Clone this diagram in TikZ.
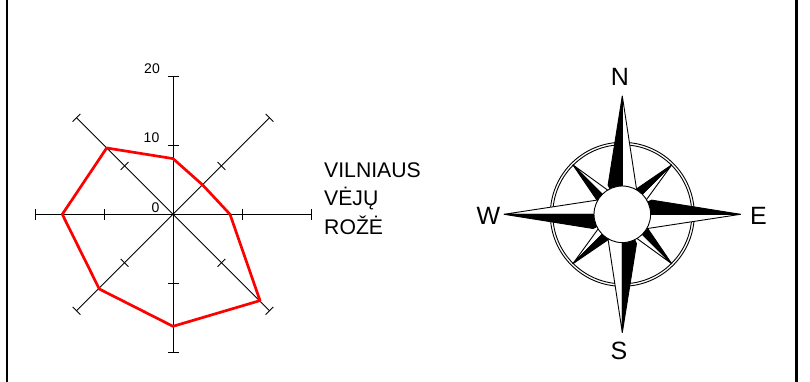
\documentclass[tikz,border=0pt]{standalone}
\usepackage{fontspec}
\setmainfont{Liberation Sans}
\tikzset{
  axisline/.style={black,line width=1pt},
  diagline/.style={black,line width=0.9pt},
  windline/.style={red,line width=2.7pt,line join=round},
  smalllabel/.style={font=\fontsize{14}{14}\selectfont,inner sep=0pt,anchor=base east},
  titlelabel/.style={font=\fontsize{21.2}{21.2}\selectfont,inner sep=0pt,anchor=base west},
  dirlabel/.style={font=\fontsize{25}{25}\selectfont,inner sep=0pt,anchor=base},
  spear/.style={draw=black,line width=0.9pt,line join=miter},
  ring/.style={draw=black,line width=0.9pt,fill=white},
}
\begin{document}
\begin{tikzpicture}[x=1pt,y=-1pt]
\useasboundingbox (0,0) rectangle (810,382);
\fill[white] (0,0) rectangle (810,382);
% page frame
\draw[black,line width=2pt] (7,0) -- (7,382);
\draw[black,line width=3pt] (796.5,0) -- (796.5,382);
% wind rose
\coordinate (c) at (173,214.3);
\begin{scope}[shift={(c)}]
  \foreach \a in {0,90,180,270}{
    \begin{scope}[rotate=\a]
      \draw[axisline] (0,0) -- (0,-138);
      \draw[axisline] (-5.5,-69) -- (5.5,-69);
      \draw[axisline] (-5.5,-138) -- (5.5,-138);
    \end{scope}
    \begin{scope}[rotate=\a+45]
      \draw[diagline] (0,0) -- (0,-136.5);
      \draw[diagline] (-5.5,-68.5) -- (5.5,-68.5);
      \draw[diagline] (-5.5,-136.5) -- (5.5,-136.5);
    \end{scope}
  }
  \draw[windline] (0,-55.7) -- (29.7,-29.3) -- (57,0) -- (87,86.3) -- (0,112) -- (-73.7,74.7) -- (-110.7,0) -- (-66.3,-66.3) -- cycle;
\end{scope}
\node[smalllabel] (l20) at (160,74) {20};
\node[smalllabel] (l10) at (159.5,143) {10};
\node[smalllabel] (l0) at (159.5,212) {0};
\node[titlelabel] (t1) at (324,177) {VILNIAUS};
\node[titlelabel] (t2) at (324,205) {VĖJŲ};
\node[titlelabel] (t3) at (324,234) {ROŽĖ};
% compass
\coordinate (k) at (622.3,214.3);
\begin{scope}[shift={(k)}]
  \draw[ring] (0,0) circle (72);
  \draw[ring] (0,0) circle (69.5);
  \foreach \a in {0,90,180,270}{
    \begin{scope}[rotate=\a-45]
      \fill[white,spear] (0,0) -- (0,-70) -- (8,-19.5) -- cycle;
      \fill[black,spear] (0,0) -- (0,-70) -- (-8,-27.5) -- cycle;
    \end{scope}
  }
  \foreach \a in {0,90,180,270}{
    \begin{scope}[rotate=\a]
      \fill[white,spear] (0,0) -- (0,-118.3) -- (14.2,-25.3) -- cycle;
      \fill[black,spear] (0,0) -- (0,-118.3) -- (-14.2,-29.3) -- cycle;
    \end{scope}
  }
  \draw[ring] (0,0) circle (28.3);
\end{scope}
\node[dirlabel] (n) at (620,86) {N};
\node[dirlabel] (e) at (758.5,224) {E};
\node[dirlabel] (w) at (488.5,224) {W};
\node[dirlabel] (s) at (619,359) {S};
\end{tikzpicture}
\end{document}
